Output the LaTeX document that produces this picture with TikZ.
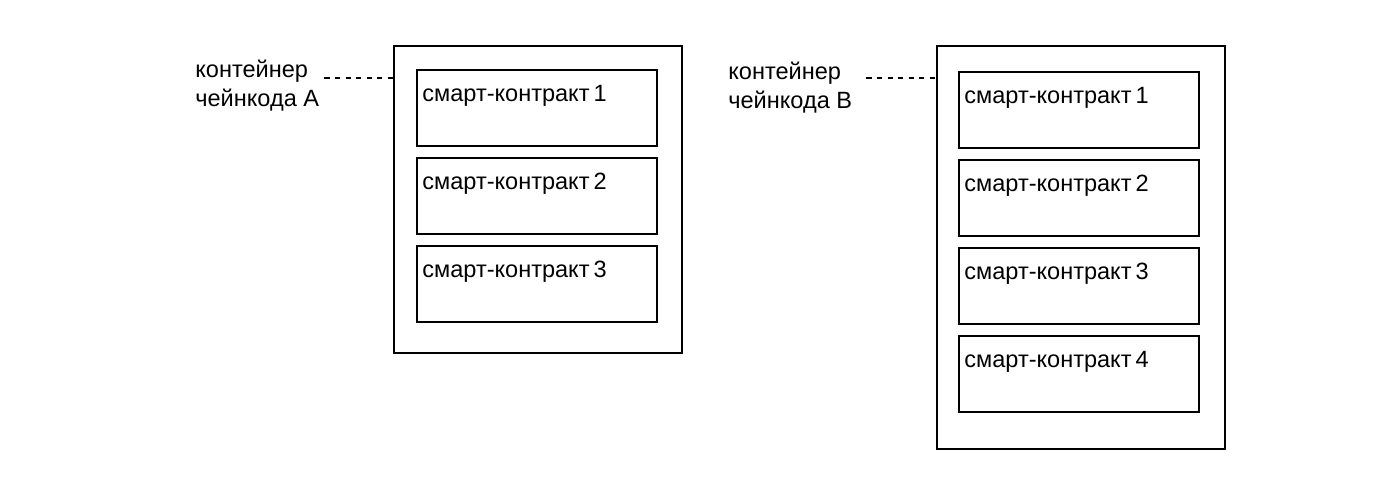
\documentclass[tikz,border=0pt]{standalone}
\usepackage{fontspec}
\setmainfont{Liberation Sans}
\usetikzlibrary{positioning}
\tikzset{
  container/.style = {draw, line width=0.9pt, anchor=north west, inner sep=0pt},
  contract/.style  = {draw, line width=0.9pt, anchor=north west, inner sep=0pt,
                      minimum width=4.8cm, minimum height=1.52cm},
  ctext/.style     = {anchor=north west, inner sep=0pt, font=\fontsize{13.4}{16}\selectfont},
  clabel/.style    = {anchor=north west, inner sep=0pt, align=left,
                      font=\fontsize{13.4}{16.2}\selectfont},
  link/.style      = {draw, dashed, line width=0.6pt}
}
\begin{document}
\begin{tikzpicture}[x=0.02cm, y=-0.02cm]
  \useasboundingbox (0,0) rectangle (1400,485);
  % containers
  \node [container, minimum width=5.76cm, minimum height=6.14cm] (boxA) at (393,45) {};
  \node [container, minimum width=5.76cm, minimum height=8.06cm] (boxB) at (936,45) {};
  % contracts in A
  \foreach \i/\y in {1/69, 2/157, 3/245} {
    \node [contract] (a\i) at (416,\y) {};
    \node [ctext] (at\i) at ([shift={(6,16)}]a\i.north west) {смарт-контракт\,\i};
  }
  % contracts in B
  \foreach \i/\y in {1/71, 2/159, 3/247, 4/335} {
    \node [contract] (b\i) at (958,\y) {};
    \node [ctext] (bt\i) at ([shift={(6,16)}]b\i.north west) {смарт-контракт\,\i};
  }
  % labels
  \node [clabel] (labA) at (195,60) {контейнер\\чейнкода A};
  \node [clabel] (labB) at (728,62) {контейнер\\чейнкода B};
  \coordinate (lineA) at (393,78);
  \coordinate (lineB) at (936,78);
  \path [link] (labA.east |- lineA) ++(5,0) -- (lineA);
  \path [link] (labB.east |- lineB) ++(14,0) -- (lineB);
\end{tikzpicture}
\end{document}
